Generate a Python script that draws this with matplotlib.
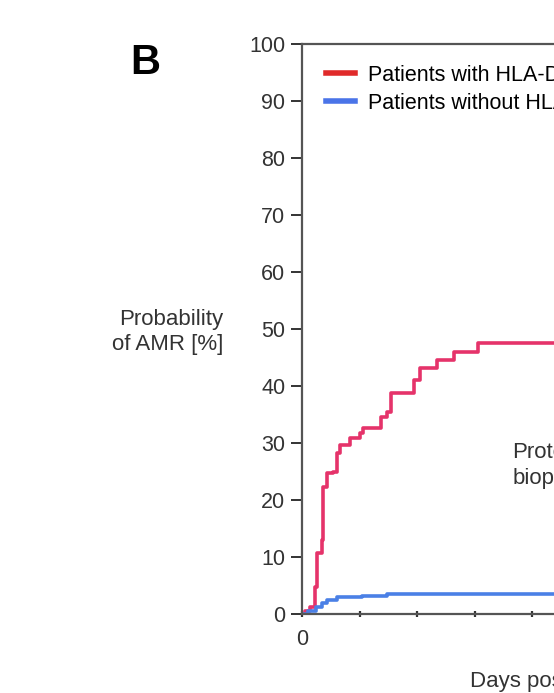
import matplotlib.pyplot as plt
from matplotlib.ticker import MultipleLocator

plt.rcParams['font.family'] = ['Liberation Sans', 'DejaVu Sans']

# Kaplan-Meier style cumulative probability of AMR (%)
days_dsa = [0, 3, 7, 11, 13, 17, 18, 22, 27, 30, 33, 42, 50, 53, 69, 74, 77, 97, 103, 117, 132, 153, 400]
amr_dsa = [0, 0.5, 1.3, 4.8, 10.7, 13, 22.3, 24.7, 25, 28.2, 29.6, 30.8, 31.7, 32.6, 34.6, 35.5, 38.7, 41, 43.1, 44.5, 46, 47.6, 47.6]

days_nodsa = [0, 5, 12, 17, 22, 30, 52, 74, 400]
amr_nodsa = [0, 0.5, 1.2, 1.9, 2.5, 3.0, 3.2, 3.5, 3.5]

legend_labels = ['Patients with HLA-DSA', 'Patients without HLA-DSA']
yticks = [0, 10, 20, 30, 40, 50, 60, 70, 80, 90, 100]

fig = plt.figure(figsize=(5.54, 6.93), dpi=100)
ax = fig.add_axes([302 / 554, 1 - 614 / 693, 460 / 554, 570 / 693])

ax.step(days_dsa, amr_dsa, where='post', color='#e5336a', lw=2.6, label=legend_labels[0])
ax.step(days_nodsa, amr_nodsa, where='post', color='#4a80e6', lw=2.6, label=legend_labels[1])

ax.set_xlim(0, 400)
ax.set_ylim(0, 100)
ax.set_yticks(yticks)
ax.set_xticks([0])
ax.xaxis.set_minor_locator(MultipleLocator(50))
ax.tick_params(axis='y', direction='out', length=8, width=1.4, labelsize=15.5, colors='#333333', pad=4)
ax.tick_params(axis='x', which='both', direction='inout', length=4, width=1.6, labelsize=15.5, colors='#333333', pad=9)
for s in ax.spines.values():
    s.set_color('#555555')
    s.set_linewidth(1.6)

# legend handles in pure red/blue like the original
h1, = ax.plot([], [], color='#e02a2a', lw=4)
h2, = ax.plot([], [], color='#4a74e8', lw=4)
ax.legend([h1, h2], legend_labels, loc='upper left', bbox_to_anchor=(0.01, 0.998),
          frameon=False, fontsize=15.5, handlelength=1.35, handletextpad=0.6, labelspacing=0.33)

ax.set_xlabel('Days post-transplant', fontsize=16, color='#333333')
ax.xaxis.set_label_coords(0.587, -0.1)

fig.text(223 / 554, 1 - 332 / 693, 'Probability\nof AMR [%]', ha='right', va='center',
         fontsize=16, color='#333333', linespacing=1.3)
fig.text(130 / 554, 1 - 63 / 693, 'B', fontsize=30, fontweight='bold', va='center', ha='left')

ax.text(183, 26, 'Protocol\nbiopsy', fontsize=16, color='#333333', va='center', linespacing=1.3)

fig.savefig('out.png', dpi=100)
